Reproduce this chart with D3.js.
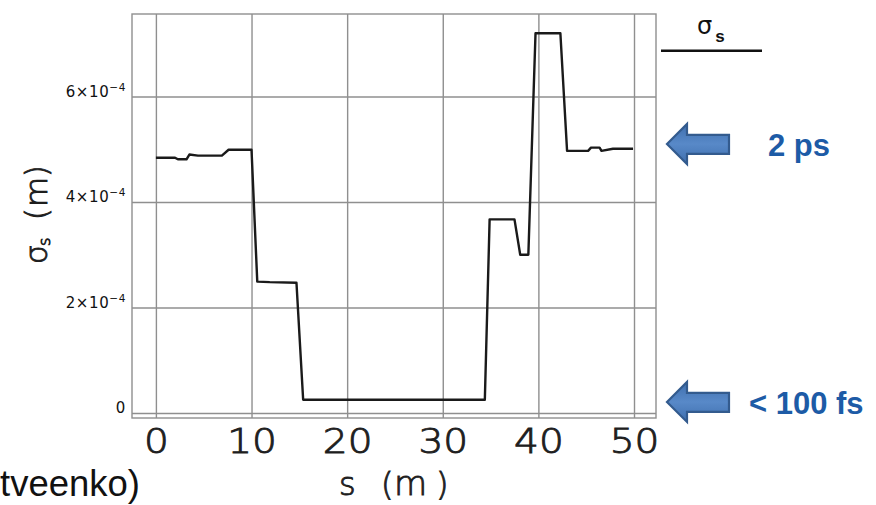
<!DOCTYPE html>
<html><head><meta charset="utf-8">
<script src="https://cdn.jsdelivr.net/npm/d3@7"></script>
<style>body{margin:0;background:#fff}svg{display:block}</style>
</head><body>
<svg id="c" width="876" height="505"></svg>
<script>
// position along the line s (m)
const positions = [0, 2.0, 2.3, 3.2, 3.5, 4.4, 6.9, 7.6, 10.0, 10.6, 11.9, 14.7, 15.4, 34.4, 34.9, 37.5, 38.1, 38.95, 39.7, 42.3, 43.0, 45.2, 45.5, 46.4, 46.6, 47.8, 49.9];
// bunch length sigma_s in units of 1e-4 m
const sigmaE4 = [4.84, 4.84, 4.81, 4.81, 4.90, 4.88, 4.88, 4.99, 4.99, 2.49, 2.48, 2.47, 0.25, 0.25, 3.67, 3.67, 3.00, 3.00, 7.20, 7.20, 4.97, 4.97, 5.03, 5.03, 4.97, 5.01, 5.01];
const xTicks = [0, 10, 20, 30, 40, 50];
const yTicks = [0, 2, 4, 6];
const yTickBase = ["0", "2×10", "4×10", "6×10"];
const yTickExp = ["", "−4", "−4", "−4"];
const annotations = ["2 ps", "< 100 fs"];
const annotationAt = [5.1, 0.21];
const footer = "tveenko)";

const svg = d3.select("#c");
const x = d3.scaleLinear().domain([-2.5, 52.3]).range([132, 656]);
const y = d3.scaleLinear().domain([-0.095, 7.564]).range([418, 14]);
const gridColor = "#8f8f8f";
const ink = "#1e1e1e";
const thin = sel => sel.attr("font-family", "DejaVu Sans").attr("font-weight", 200)
  .attr("fill", ink).attr("stroke", ink).attr("stroke-width", 0.9);

// vertical grid + x tick labels
const gx = svg.append("g").attr("transform", "translate(0,418)")
  .call(d3.axisBottom(x).tickValues(xTicks).tickSize(-404).tickFormat(d => String(d)));
gx.select(".domain").remove();
gx.selectAll("line").attr("stroke", gridColor).attr("stroke-width", 1.4);
gx.selectAll("text").attr("y", 35).attr("dy", 0)
  .attr("font-size", 34).attr("transform", "scale(1.15,1)").call(thin);

// horizontal grid + y tick labels
const gy = svg.append("g").attr("transform", "translate(132,0)")
  .call(d3.axisLeft(y).tickValues(yTicks).tickSize(-524).tickFormat(""));
gy.select(".domain").remove();
gy.selectAll("line").attr("stroke", gridColor).attr("stroke-width", 1.4);
gy.selectAll(".tick").each(function(d, i) {
  const t = d3.select(this).append("text")
    .attr("x", -6).attr("y", 0).attr("text-anchor", "end")
    .attr("font-family", "DejaVu Sans").attr("font-size", 15)
    .attr("letter-spacing", 0.6).attr("fill", "#111");
  t.append("tspan").text(yTickBase[i]);
  if (yTickExp[i]) t.append("tspan").attr("dy", -6).attr("font-size", 10.5).text(yTickExp[i]);
});

// frame
svg.append("rect").attr("x", 132).attr("y", 14).attr("width", 524).attr("height", 404)
  .attr("fill", "none").attr("stroke", gridColor).attr("stroke-width", 1.4);

// data line
svg.append("path")
  .datum(positions.map((s, i) => [s, sigmaE4[i]]))
  .attr("fill", "none").attr("stroke", "#1a1a1a").attr("stroke-width", 2.4)
  .attr("stroke-linejoin", "round")
  .attr("d", d3.line().x(d => x(d[0])).y(d => y(d[1])));

// x axis title
const xt = svg.append("text").attr("y", 495).attr("font-size", 32).call(thin);
xt.append("tspan").attr("x", 339).text("s");
xt.append("tspan").attr("x", 381).text("(");
xt.append("tspan").attr("x", 394).attr("font-size", 34).text("m");
xt.append("tspan").attr("x", 436).text(")");

// y axis title (rotated)
const ytg = svg.append("g").attr("transform", "translate(47,264) rotate(-90)");
const yt = ytg.append("text").attr("font-size", 30).call(thin);
yt.append("tspan").attr("x", 0).text("σ");
yt.append("tspan").attr("x", 18).attr("dy", 3).attr("font-size", 16).text("s");
yt.append("tspan").attr("x", 44).attr("dy", -3).text("(");
yt.append("tspan").attr("x", 57).attr("font-size", 31).text("m");
yt.append("tspan").attr("x", 87).text(")");

// legend
const lg = svg.append("text").attr("x", 697).attr("y", 34).attr("font-family", "DejaVu Sans")
  .attr("font-size", 24).attr("fill", "#111");
lg.append("tspan").text("σ");
lg.append("tspan").attr("dx", 3).attr("dy", 8).attr("font-family", "Liberation Sans")
  .attr("font-weight", "bold").attr("font-size", 17).text("s");
svg.append("line").attr("x1", 661).attr("x2", 762).attr("y1", 50.7).attr("y2", 50.7)
  .attr("stroke", "#111").attr("stroke-width", 2.5);

// arrows + annotation text
const defs = svg.append("defs");
const grad = defs.append("linearGradient").attr("id", "ag").attr("x1", 0).attr("x2", 0).attr("y1", 0).attr("y2", 1);
grad.append("stop").attr("offset", "0%").attr("stop-color", "#3f6fae");
grad.append("stop").attr("offset", "50%").attr("stop-color", "#5889c8");
grad.append("stop").attr("offset", "100%").attr("stop-color", "#3f6fae");
const arrowPts = [[0,0],[20,-20],[20,-9],[62,-9],[62,10],[20,10],[20,20]];
annotationAt.forEach((v, i) => {
  const yy = y(v);
  svg.append("polygon")
    .attr("points", arrowPts.map(p => [667 + p[0], yy + p[1]].join(",")).join(" "))
    .attr("fill", "url(#ag)").attr("stroke", "#335b8e").attr("stroke-width", 2.2)
    .attr("stroke-linejoin", "miter");
  svg.append("text").attr("x", i === 0 ? 768 : 749).attr("y", yy + 12)
    .attr("font-family", "Liberation Sans, Arial").attr("font-weight", "bold")
    .attr("font-size", 31).attr("fill", "#1d5ba6").text(annotations[i]);
});

// footer
svg.append("text").attr("x", 0).attr("y", 496)
  .attr("font-family", "Liberation Sans, Arial").attr("font-size", 36.5).attr("fill", "#111")
  .text(footer);
</script>
</body></html>
